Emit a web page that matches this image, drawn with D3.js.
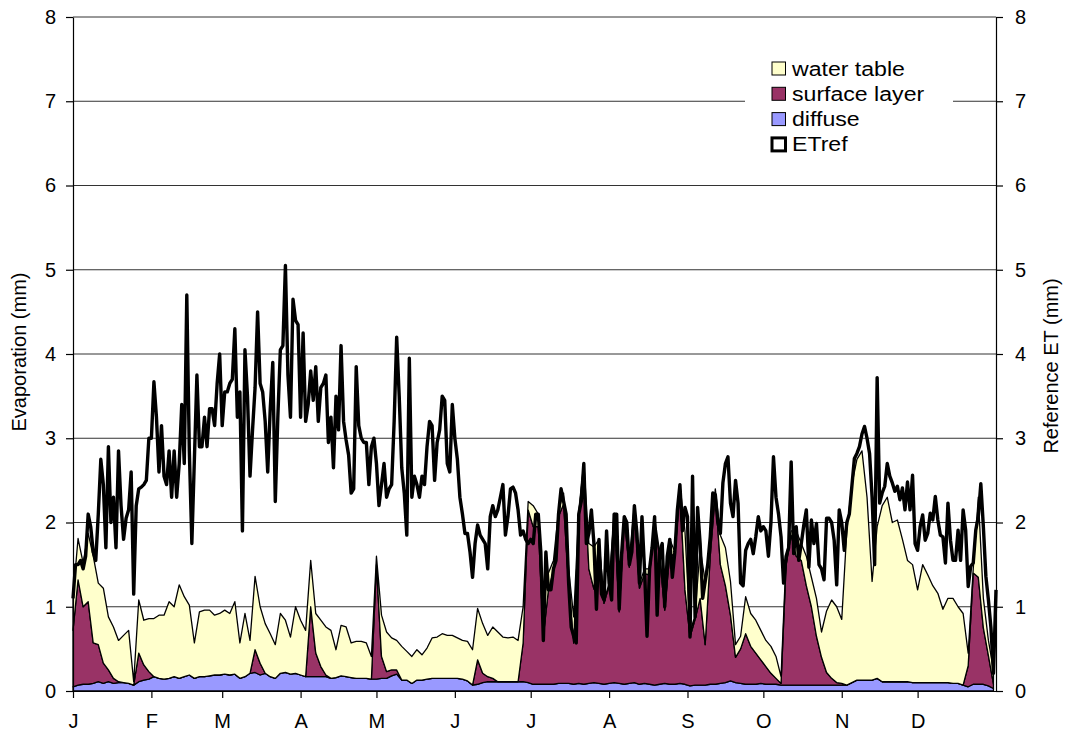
<!DOCTYPE html>
<html>
<head>
<meta charset="utf-8">
<script src="https://cdn.jsdelivr.net/npm/d3@7"></script>
<style>
  body { margin: 0; background: #fff; }
  text { font-family: "Liberation Sans", Arial, sans-serif; fill: #000; }
</style>
</head>
<body>
<div id="chart"></div>
<script>

// month ticks (day of year) and their labels
var monthStarts = [0, 31, 59, 90, 120, 151, 181, 212, 243, 273, 304, 334];
var monthLabels = ["J", "F", "M", "A", "M", "J", "J", "A", "S", "O", "N", "D"];
var yTicks = [0, 1, 2, 3, 4, 5, 6, 7, 8];

// reference ET, one value per day (mm)
var etref = [
  1.1, 1.5, 1.5, 1.55, 1.45, 1.6, 2.1, 1.95, 1.65, 1.55,
  2.1, 2.75, 2.45, 1.7, 2.9, 2.0, 2.3, 1.7, 2.85, 2.2,
  1.8, 2.05, 2.15, 2.6, 1.15, 2.2, 2.4, 2.42, 2.45, 2.5,
  3.0, 3.0, 3.67, 3.25, 2.6, 3.15, 2.55, 2.45, 2.85, 2.3,
  2.85, 2.3, 2.7, 3.4, 2.7, 4.7, 2.85, 1.75, 2.75, 3.75,
  2.9, 2.9, 3.25, 2.9, 3.35, 3.35, 3.15, 3.65, 4.0, 3.15,
  3.55, 3.55, 3.65, 3.7, 4.3, 3.25, 3.55, 1.9, 4.05, 3.5,
  2.55, 3.1, 3.6, 4.5, 3.65, 3.55, 3.2, 2.6, 3.35, 3.9,
  2.25, 3.25, 4.05, 4.1, 5.05, 3.75, 3.25, 4.65, 4.4, 4.35,
  3.25, 4.25, 3.2, 3.4, 3.8, 3.45, 3.85, 3.2, 3.6, 3.65,
  3.75, 2.95, 3.25, 2.65, 3.5, 3.1, 4.1, 3.2, 2.98, 2.8,
  2.35, 2.4, 3.85, 3.15, 3.0, 2.95, 2.95, 2.45, 2.9, 3.0,
  2.7, 2.2, 2.45, 2.7, 2.3, 2.4, 2.45, 3.2, 4.2, 3.5,
  2.65, 2.35, 1.85, 3.95, 2.3, 2.55, 2.45, 2.3, 2.55, 2.45,
  2.9, 3.2, 3.15, 2.5, 2.95, 3.1, 3.5, 3.45, 2.7, 2.6,
  3.4, 3.0, 2.75, 2.3, 2.1, 1.87, 1.87, 1.65, 1.35, 1.75,
  1.97, 1.85, 1.8, 1.75, 1.45, 2.07, 2.2, 2.07, 2.15, 2.3,
  2.45, 1.85, 2.07, 2.4, 2.42, 2.35, 2.15, 1.85, 1.9, 1.8,
  1.75, 1.8, 1.75, 2.1, 2.1, 1.65, 0.6, 1.65, 1.2, 1.2,
  1.45, 1.55, 2.1, 2.4, 2.25, 2.1, 1.28, 0.76, 0.65, 0.57,
  2.1, 2.25, 2.7, 1.75, 1.87, 2.15, 1.75, 0.97, 1.8, 1.15,
  1.08, 1.9, 1.28, 1.08, 2.1, 2.1, 0.97, 1.65, 2.07, 2.0,
  1.5, 1.65, 2.2, 1.87, 1.28, 2.07, 1.45, 0.65, 1.45, 1.7,
  2.07, 0.9, 1.65, 1.75, 1.0, 1.6, 1.8, 1.35, 1.65, 2.15,
  2.45, 1.9, 2.18, 2.07, 0.64, 2.55, 0.88, 2.18, 1.75, 1.1,
  1.3, 1.5, 1.83, 2.35, 2.33, 2.0, 1.87, 2.47, 2.7, 2.78,
  2.23, 2.07, 2.5, 2.23, 1.28, 1.25, 1.67, 1.75, 1.8, 1.63,
  1.83, 2.07, 1.9, 1.95, 1.9, 1.6, 2.0, 2.78, 2.3, 2.1,
  1.83, 1.28, 1.6, 1.7, 2.72, 1.63, 1.95, 1.55, 1.75, 1.97,
  2.15, 1.47, 2.03, 1.75, 1.99, 1.5, 1.45, 1.32, 2.05, 2.05,
  2.0, 1.79, 1.26, 2.15, 2.0, 1.67, 2.0, 2.1, 2.43, 2.76,
  2.82, 2.9, 3.05, 3.14, 3.0, 2.82, 2.3, 1.5, 3.72, 2.23,
  2.35, 2.43, 2.7, 2.55, 2.47, 2.37, 2.43, 2.27, 2.41, 2.15,
  2.48, 2.15, 2.56, 1.75, 1.67, 1.95, 2.09, 1.79, 1.87, 2.11,
  2.03, 2.31, 2.03, 1.85, 1.83, 1.52, 2.23, 1.79, 1.55, 1.55,
  1.91, 1.55, 2.15, 1.91, 1.24, 1.48, 1.52, 1.91, 2.07, 2.46,
  1.95, 1.36, 1.08, 0.75, 0.21, 1.2
];

// evaporation components, read every second day (day 0, 2, 4 ...)
var diffuse = [
  0.05, 0.07, 0.08, 0.08, 0.09, 0.11, 0.09, 0.11, 0.09, 0.1,
  0.1, 0.09, 0.07, 0.11, 0.13, 0.14, 0.17, 0.15, 0.14, 0.15,
  0.17, 0.15, 0.17, 0.19, 0.15, 0.17, 0.17, 0.18, 0.19, 0.19,
  0.2, 0.19, 0.2, 0.15, 0.17, 0.21, 0.22, 0.19, 0.21, 0.17,
  0.15, 0.21, 0.22, 0.2, 0.21, 0.19, 0.17, 0.17, 0.17, 0.17,
  0.17, 0.15, 0.16, 0.18, 0.17, 0.16, 0.15, 0.15, 0.15, 0.14,
  0.14, 0.15, 0.15, 0.18, 0.2, 0.13, 0.13, 0.09, 0.13, 0.13,
  0.14, 0.15, 0.15, 0.15, 0.15, 0.15, 0.15, 0.14, 0.12, 0.07,
  0.08, 0.1, 0.11, 0.11, 0.11, 0.11, 0.11, 0.11, 0.11, 0.11,
  0.1, 0.08, 0.08, 0.08, 0.08, 0.08, 0.09, 0.09, 0.09, 0.08,
  0.09, 0.08, 0.09, 0.1, 0.09, 0.08, 0.09, 0.1, 0.09, 0.08,
  0.09, 0.1, 0.08, 0.09, 0.08, 0.07, 0.08, 0.09, 0.08, 0.08,
  0.09, 0.08, 0.06, 0.07, 0.07, 0.07, 0.08, 0.08, 0.09, 0.1,
  0.12, 0.1, 0.09, 0.08, 0.08, 0.08, 0.09, 0.08, 0.08, 0.08,
  0.07, 0.07, 0.07, 0.07, 0.07, 0.07, 0.07, 0.07, 0.07, 0.07,
  0.07, 0.07, 0.07, 0.07, 0.1, 0.13, 0.13, 0.13, 0.13, 0.15,
  0.11, 0.11, 0.11, 0.11, 0.11, 0.11, 0.1, 0.1, 0.1, 0.1,
  0.1, 0.1, 0.1, 0.1, 0.09, 0.09, 0.07, 0.05, 0.08, 0.08,
  0.08, 0.06, 0.03
];

var surfaceLayer = [
  0.67, 1.25, 0.92, 0.98, 0.48, 0.44, 0.24, 0.14, 0.06, 0.01,
  0, 0, 0, 0.34, 0.18, 0.09, 0, 0, 0, 0,
  0, 0, 0, 0, 0, 0, 0, 0, 0, 0,
  0, 0, 0, 0, 0, 0, 0.27, 0.14, 0, 0,
  0, 0, 0, 0, 0, 0, 0, 0.83, 0.28, 0.12,
  0.02, 0, 0, 0, 0, 0, 0, 0, 0, 0,
  1.36, 0.26, 0.08, 0.07, 0.05, 0, 0, 0, 0, 0,
  0, 0, 0, 0, 0, 0, 0, 0, 0, 0,
  0.29, 0.11, 0.06, 0.04, 0, 0, 0, 0, 0, 0.46,
  2.05, 1.87, 1.87, 0.57, 1.12, 1.35, 1.98, 2.13, 1.16, 0.49,
  2.0, 2.61, 1.36, 1.11, 1.68, 0.96, 1.16, 1.98, 0.85, 1.95,
  1.38, 2.06, 1.14, 1.3, 1.3, 1.94, 1.5, 0.87, 1.55, 1.52,
  2.3, 1.12, 0.58, 0.78, 1.03, 0.48, 1.52, 2.27, 1.41, 1.15,
  0.78, 0.3, 0.41, 0.6, 0.45, 0.37, 0.28, 0.21, 0.13, 0.07,
  0.02, 1.43, 1.78, 1.53, 1.48, 1.18, 0.93, 0.58, 0.33, 0.15,
  0.08, 0.03, 0.02, 0, 0, 0, 0, 0, 0, 0,
  0, 0, 0, 0, 0, 0, 0, 0, 0, 0,
  0, 0, 0, 0, 0, 0, 0, 0.25, 1.32, 1.27,
  0.67, 0.36, 0.05
];

var waterTable = [
  0.4, 0.49, 0.52, 0.81, 1.03, 0.73, 0.89, 0.63, 0.61, 0.49,
  0.56, 0.63, 0.04, 0.63, 0.53, 0.63, 0.69, 0.75, 0.76, 0.91,
  0.83, 1.11, 0.95, 0.83, 0.42, 0.77, 0.79, 0.78, 0.71, 0.73,
  0.76, 0.73, 0.86, 0.42, 0.75, 0.39, 0.87, 0.67, 0.59, 0.51,
  0.4, 0.71, 0.62, 0.44, 0.79, 0.65, 0.55, 0.55, 0.47, 0.55,
  0.57, 0.57, 0.33, 0.6, 0.59, 0.41, 0.44, 0.44, 0.42, 0.27,
  0.1, 0.49, 0.47, 0.38, 0.35, 0.4, 0.34, 0.32, 0.36, 0.3,
  0.37, 0.48, 0.49, 0.53, 0.51, 0.51, 0.48, 0.46, 0.47, 0.42,
  0.61, 0.59, 0.49, 0.61, 0.59, 0.53, 0.52, 0.53, 0.49, 0.43,
  0.1, 0.25, 0.15, 0.45, 0.2, 0.12, 0.07, 0.13, 0.2, 0.31,
  0.05, 0.02, 0.3, 0.5, 0.03, 0.03, 0.03, 0.03, 0.03, 0.03,
  0.1, 0.05, 0.05, 0.06, 0.07, 0.05, 0.07, 0.05, 0.17, 0.05,
  0.06, 0.7, 0.06, 0.05, 0.6, 0.75, 0.15, 0.05, 0.35, 0.45,
  0.4, 0.15, 0.15, 0.44, 0.39, 0.39, 0.35, 0.31, 0.32, 0.26,
  0.08, 0.1, 0.05, 0.3, 0.2, 0.35, 0.35, 0.45, 0.3, 0.73,
  0.93, 0.9, 0.76, 1.83, 2.35, 2.62, 2.72, 2.17, 1.17, 1.8,
  2.09, 2.19, 1.89, 1.92, 1.69, 1.44, 1.4, 1.1, 1.4, 1.28,
  1.15, 1.06, 0.87, 1.0, 1.01, 0.91, 0.85, 0.15, 0.05, 0.95,
  0.35, 0.18, 0.17
];

var seriesKeys = ["diffuse", "surface", "waterTable"];
var seriesColors = { diffuse: "#9999ff", surface: "#993366", waterTable: "#ffffcc" };

// build the rows d3.stack wants
var stackRows = diffuse.map(function (v, i) {
  return { day: i * 2, diffuse: v, surface: surfaceLayer[i], waterTable: waterTable[i] };
});

var svgWidth = 1065;
var svgHeight = 740;

var svg = d3.select("#chart")
  .append("svg")
  .attr("width", svgWidth)
  .attr("height", svgHeight);

var xScale = d3.scaleLinear().domain([0, 365]).range([73, 996]);
var yScale = d3.scaleLinear().domain([0, 8]).range([691, 17]);

// horizontal gridlines
svg.append("g")
  .selectAll("line")
  .data(yTicks.slice(1))
  .enter()
  .append("line")
  .attr("x1", 73)
  .attr("x2", 996)
  .attr("y1", d => yScale(d))
  .attr("y2", d => yScale(d))
  .attr("stroke", "#333")
  .attr("stroke-width", 1);

// stacked areas
var stacked = d3.stack().keys(seriesKeys)(stackRows);

var area = d3.area()
  .x(d => xScale(d.data.day))
  .y0(d => yScale(d[0]))
  .y1(d => yScale(d[1]));

svg.append("g")
  .selectAll("path")
  .data(stacked)
  .enter()
  .append("path")
  .attr("d", area)
  .attr("fill", d => seriesColors[d.key])
  .attr("stroke", "#000")
  .attr("stroke-width", 1.3)
  .attr("stroke-linejoin", "round");

// ETref line
var etLine = d3.line()
  .x((d, i) => xScale(i))
  .y(d => yScale(d));

svg.append("path")
  .datum(etref)
  .attr("d", etLine)
  .attr("fill", "none")
  .attr("stroke", "#000")
  .attr("stroke-width", 3.4)
  .attr("stroke-linejoin", "round");

// axes
var leftAxis = d3.axisLeft(yScale).tickValues(yTicks).tickSize(7).tickSizeOuter(0).tickPadding(10);
var rightAxis = d3.axisRight(yScale).tickValues(yTicks).tickSize(7).tickSizeOuter(0).tickPadding(12);
var bottomAxis = d3.axisBottom(xScale)
  .tickValues(monthStarts)
  .tickFormat((d, i) => monthLabels[i])
  .tickSize(7)
  .tickSizeOuter(0)
  .tickPadding(16);

var gLeft = svg.append("g").attr("transform", "translate(73,0)").call(leftAxis);
var gRight = svg.append("g").attr("transform", "translate(996,0)").call(rightAxis);
var gBottom = svg.append("g").attr("transform", "translate(0,691)").call(bottomAxis);

[gLeft, gRight, gBottom].forEach(function (g) {
  g.selectAll("path, line").attr("stroke", "#000").attr("stroke-width", 1.2);
  g.selectAll("text")
    .attr("font-family", "'Liberation Sans', Arial, sans-serif")
    .attr("font-size", 20)
    .attr("fill", "#000");
});

// axis titles
svg.append("text")
  .attr("transform", "translate(26,352) rotate(-90)")
  .attr("text-anchor", "middle")
  .attr("font-size", 20)
  .text("Evaporation (mm)");

svg.append("text")
  .attr("transform", "translate(1058,366) rotate(-90)")
  .attr("text-anchor", "middle")
  .attr("font-size", 20)
  .text("Reference ET (mm)");

// legend
var legendItems = [
  { label: "water table", fill: "#ffffcc", stroke: 1 },
  { label: "surface layer", fill: "#993366", stroke: 1 },
  { label: "diffuse", fill: "#9999ff", stroke: 1 },
  { label: "ETref", fill: "#fff", stroke: 3 }
];

var legend = svg.append("g");

legend.append("rect")
  .attr("x", 745)
  .attr("y", 54)
  .attr("width", 208)
  .attr("height", 106)
  .attr("fill", "#fff");

var rows = legend.selectAll("g.item")
  .data(legendItems)
  .enter()
  .append("g")
  .attr("class", "item")
  .attr("transform", (d, i) => `translate(772, ${62 + i * 25.3})`);

rows.append("rect")
  .attr("width", 13.5)
  .attr("height", 13)
  .attr("fill", d => d.fill)
  .attr("stroke", "#000")
  .attr("stroke-width", d => d.stroke);

rows.append("text")
  .attr("transform", "translate(20,13.5) scale(1.1,1)")
  .attr("font-size", 21)
  .text(d => d.label);

</script>
</body>
</html>
